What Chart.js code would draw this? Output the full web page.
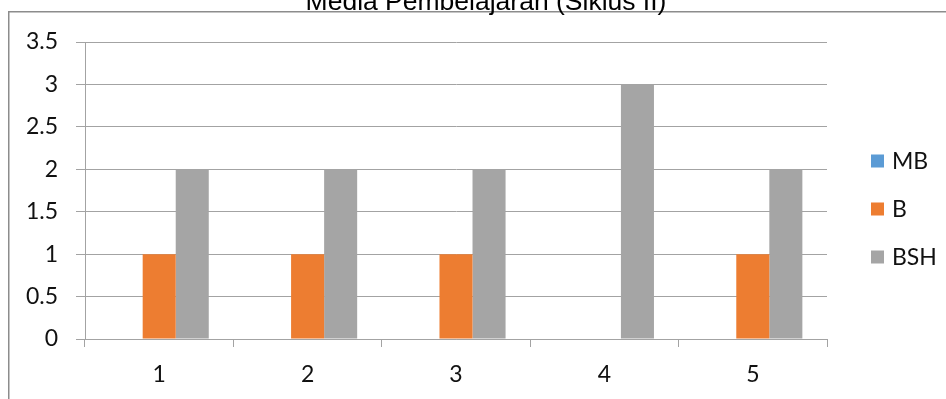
<!DOCTYPE html>
<html>
<head>
<meta charset="utf-8">
<script src="https://cdn.jsdelivr.net/npm/chart.js@4.4.1/dist/chart.umd.min.js"></script>
<style>
  html, body { margin: 0; padding: 0; background: #ffffff; }
  #wrap { width: 946px; height: 399px; position: relative; }
</style>
</head>
<body>
<div id="wrap"><canvas id="c" width="946" height="399"></canvas></div>
<script>
// Chart data
const chartTitle = 'Media Pembelajaran (Siklus II)';
const categories = ['1', '2', '3', '4', '5'];
const seriesNames = ['MB', 'B', 'BSH'];
const valuesMB = [0, 0, 0, 0, 0];
const valuesB = [1, 1, 1, 0, 1];
const valuesBSH = [2, 2, 2, 3, 2];
const yTickLabels = ['0', '0.5', '1', '1.5', '2', '2.5', '3', '3.5'];
const seriesColors = ['#5B9BD5', '#ED7D31', '#A5A5A5'];

const labelFont = { family: 'Lato, "Open Sans", sans-serif', size: 23 };
const textColor = '#111111';
const lineColor = '#A3A3A3';

// White background, frame lines, title and a fixed-position legend
const decorations = {
  id: 'decorations',
  beforeDraw(chart) {
    const ctx = chart.ctx;
    ctx.save();
    ctx.fillStyle = '#ffffff';
    ctx.fillRect(0, 0, chart.width, chart.height);
    ctx.strokeStyle = '#8C8C8C';
    ctx.lineWidth = 1.5;
    ctx.beginPath();
    ctx.moveTo(8.75, chart.height + 2);
    ctx.lineTo(8.75, 11.75);
    ctx.lineTo(chart.width + 2, 11.75);
    ctx.stroke();
    ctx.restore();
  },
  afterDraw(chart) {
    const ctx = chart.ctx;
    ctx.save();
    // title
    ctx.fillStyle = '#000000';
    ctx.font = '26.5px "Liberation Sans", Arial, sans-serif';
    ctx.textAlign = 'center';
    ctx.textBaseline = 'alphabetic';
    ctx.fillText(chartTitle, 486, 10);
    // legend
    ctx.font = labelFont.size + 'px ' + labelFont.family;
    ctx.textAlign = 'left';
    ctx.textBaseline = 'middle';
    chart.data.datasets.forEach((ds, i) => {
      const cy = 161 + i * 48;
      ctx.fillStyle = ds.backgroundColor;
      ctx.fillRect(871, cy - 6.5, 13, 13);
      ctx.fillStyle = textColor;
      ctx.fillText(ds.label, 892, cy + 1);
    });
    ctx.restore();
  }
};

new Chart(document.getElementById('c'), {
  type: 'bar',
  data: {
    labels: categories,
    datasets: [
      { label: seriesNames[0], data: valuesMB, backgroundColor: seriesColors[0] },
      { label: seriesNames[1], data: valuesB, backgroundColor: seriesColors[1] },
      { label: seriesNames[2], data: valuesBSH, backgroundColor: seriesColors[2] }
    ]
  },
  options: {
    responsive: false,
    animation: false,
    devicePixelRatio: 1,
    layout: { padding: { left: 0, right: 119, top: 42, bottom: 0 } },
    datasets: {
      bar: { categoryPercentage: 0.668, barPercentage: 1.0, borderWidth: 0 }
    },
    plugins: {
      legend: { display: false },
      title: { display: false },
      tooltip: { enabled: false }
    },
    scales: {
      x: {
        offset: true,
        grid: {
          display: true,
          offset: true,
          drawOnChartArea: false,
          drawTicks: true,
          tickLength: 8,
          color: lineColor,
          lineWidth: 1
        },
        border: { display: true, color: lineColor, width: 1 },
        ticks: { color: textColor, font: labelFont, padding: 14, maxRotation: 0 },
        afterFit(scale) { scale.height = 60; }
      },
      y: {
        min: 0,
        max: 3.5,
        grid: {
          color: lineColor,
          lineWidth: 1,
          drawTicks: true,
          tickLength: 9
        },
        border: { display: true, color: lineColor, width: 1 },
        ticks: {
          stepSize: 0.5,
          color: textColor,
          font: labelFont,
          padding: 18,
          callback: (v) => yTickLabels[Math.round(v / 0.5)]
        },
        afterFit(scale) { scale.width = 85; }
      }
    }
  },
  plugins: [decorations]
});
</script>
</body>
</html>
